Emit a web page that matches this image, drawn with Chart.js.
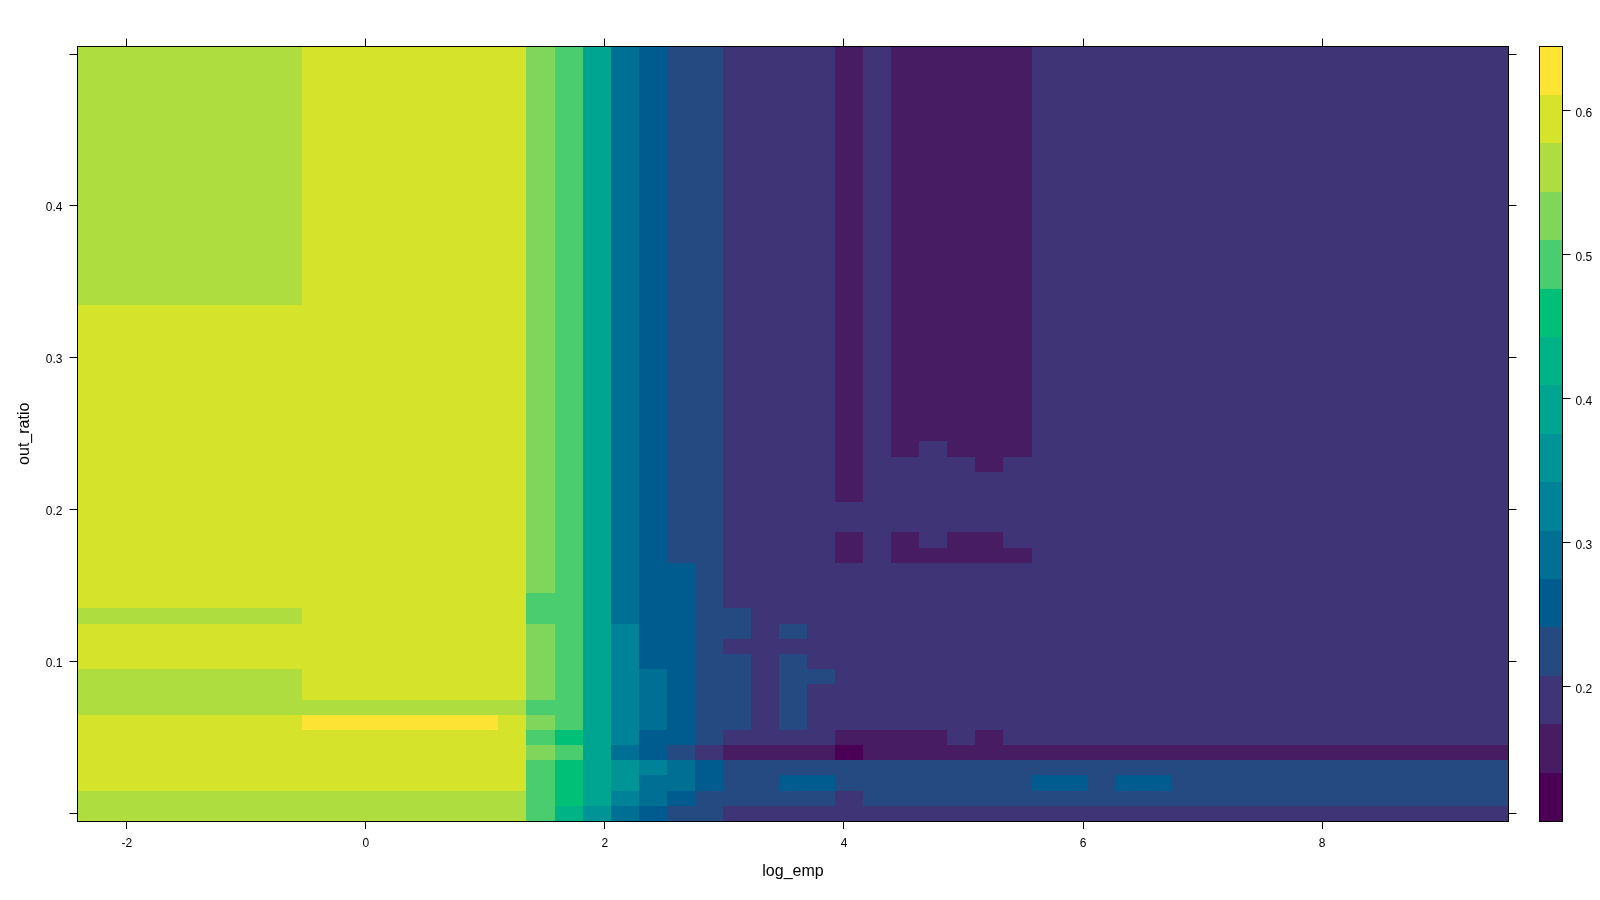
<!DOCTYPE html>
<html>
<head>
<meta charset="utf-8">
<title>out_ratio vs log_emp</title>
<script src="https://cdn.jsdelivr.net/npm/chart.js@4"></script>
<style>
  body { margin: 0; background: #fff; }
  canvas { position: absolute; top: 0; }
  #mapa { left: 0; }
  #chave { left: 1530px; }
</style>
</head>
<body>
<canvas id="mapa" width="1600" height="900"></canvas>
<canvas id="chave" width="70" height="900"></canvas>
<script>
// centros das celulas
const logEmp = [-2.30, -2.06, -1.83, -1.59, -1.36, -1.12, -0.89, -0.65, -0.42, -0.18, 0.05, 0.29, 0.52, 0.76, 0.99, 1.23, 1.46,
  1.69, 1.93, 2.16, 2.40, 2.63, 2.87, 3.10, 3.34, 3.57, 3.81, 4.04, 4.28, 4.51, 4.75, 4.98, 5.22, 5.45, 5.68, 5.92,
  6.15, 6.39, 6.62, 6.86, 7.09, 7.33, 7.56, 7.80, 8.03, 8.27, 8.50, 8.73, 8.97, 9.20, 9.44];
const outRatio = [0.50, 0.49, 0.48, 0.47, 0.46, 0.45, 0.44, 0.43, 0.42, 0.41, 0.40, 0.39, 0.38, 0.37, 0.36, 0.35, 0.34,
  0.33, 0.32, 0.31, 0.30, 0.29, 0.28, 0.27, 0.26, 0.25, 0.24, 0.23, 0.22, 0.21, 0.20, 0.19, 0.18, 0.17, 0.16, 0.15, 0.14,
  0.13, 0.12, 0.11, 0.10, 0.09, 0.08, 0.07, 0.06, 0.05, 0.04, 0.03, 0.02, 0.01, 0.00];

// faixas da legenda
const levelBreaks = [0.1064, 0.1400, 0.1737, 0.2073, 0.2410, 0.2746, 0.3082, 0.3419, 0.3755, 0.4092, 0.4428, 0.4764, 0.5101, 0.5437, 0.5774, 0.6110, 0.6447];
const levelColors = ['#4B0055', '#481C62', '#3F3476', '#254A82', '#005B8F', '#006F94', '#008298', '#009497',
  '#00A592', '#00B386', '#00C078', '#4ACD6E', '#7FD65A', '#AEDD40', '#D6E32B', '#FDE333'];

// uma linha por out_ratio (0.50 em cima), um caractere hex por log_emp = indice da faixa
const levelRows = [
  'ddddddddeeeeeeeecb854332222121111122222222222222222',
  'ddddddddeeeeeeeecb854332222121111122222222222222222',
  'ddddddddeeeeeeeecb854332222121111122222222222222222',
  'ddddddddeeeeeeeecb854332222121111122222222222222222',
  'ddddddddeeeeeeeecb854332222121111122222222222222222',
  'ddddddddeeeeeeeecb854332222121111122222222222222222',
  'ddddddddeeeeeeeecb854332222121111122222222222222222',
  'ddddddddeeeeeeeecb854332222121111122222222222222222',
  'ddddddddeeeeeeeecb854332222121111122222222222222222',
  'ddddddddeeeeeeeecb854332222121111122222222222222222',
  'ddddddddeeeeeeeecb854332222121111122222222222222222',
  'ddddddddeeeeeeeecb854332222121111122222222222222222',
  'ddddddddeeeeeeeecb854332222121111122222222222222222',
  'ddddddddeeeeeeeecb854332222121111122222222222222222',
  'ddddddddeeeeeeeecb854332222121111122222222222222222',
  'ddddddddeeeeeeeecb854332222121111122222222222222222',
  'ddddddddeeeeeeeecb854332222121111122222222222222222',
  'eeeeeeeeeeeeeeeecb854332222121111122222222222222222',
  'eeeeeeeeeeeeeeeecb854332222121111122222222222222222',
  'eeeeeeeeeeeeeeeecb854332222121111122222222222222222',
  'eeeeeeeeeeeeeeeecb854332222121111122222222222222222',
  'eeeeeeeeeeeeeeeecb854332222121111122222222222222222',
  'eeeeeeeeeeeeeeeecb854332222121111122222222222222222',
  'eeeeeeeeeeeeeeeecb854332222121111122222222222222222',
  'eeeeeeeeeeeeeeeecb854332222121111122222222222222222',
  'eeeeeeeeeeeeeeeecb854332222121111122222222222222222',
  'eeeeeeeeeeeeeeeecb854332222121211122222222222222222',
  'eeeeeeeeeeeeeeeecb854332222122221222222222222222222',
  'eeeeeeeeeeeeeeeecb854332222122222222222222222222222',
  'eeeeeeeeeeeeeeeecb854332222122222222222222222222222',
  'eeeeeeeeeeeeeeeecb854332222222222222222222222222222',
  'eeeeeeeeeeeeeeeecb854332222222222222222222222222222',
  'eeeeeeeeeeeeeeeecb854332222121211222222222222222222',
  'eeeeeeeeeeeeeeeecb854332222121111122222222222222222',
  'eeeeeeeeeeeeeeeecb854432222222222222222222222222222',
  'eeeeeeeeeeeeeeeecb854432222222222222222222222222222',
  'eeeeeeeeeeeeeeeebb854432222222222222222222222222222',
  'ddddddddeeeeeeeebb854433222222222222222222222222222',
  'eeeeeeeeeeeeeeeecb864433232222222222222222222222222',
  'eeeeeeeeeeeeeeeecb864432222222222222222222222222222',
  'eeeeeeeeeeeeeeeecb864433232222222222222222222222222',
  'ddddddddeeeeeeeecb865433233222222222222222222222222',
  'ddddddddeeeeeeeecb865433232222222222222222222222222',
  'ddddddddddddddddbb865433232222222222222222222222222',
  'eeeeeeeefffffffecb865433232222222222222222222222222',
  'eeeeeeeeeeeeeeeeba864432222111121222222222222222222',
  'eeeeeeeeeeeeeeeecb854321111011111111111111111111111',
  'eeeeeeeeeeeeeeeeba876543333333333333333333333333333',
  'eeeeeeeeeeeeeeeeba875543344333333344344333333333333',
  'ddddddddddddddddba865433333233333333333333333333333',
  'ddddddddddddddddb9754332222222222222222222222222222'
];

const xTickValues = [-2, 0, 2, 4, 6, 8];
const yTickValues = [0, 0.1, 0.2, 0.3, 0.4, 0.5];
const yTickLabels = ['', '0.1', '0.2', '0.3', '0.4', ''];
const keyTickValues = [0.2, 0.3, 0.4, 0.5, 0.6];

const cellHalf = 0.005;
const corTexto = '#000';
const fonteTick = { family: '"Liberation Sans", Arial, sans-serif', size: 12 };
const fonteTitulo = { family: '"Liberation Sans", Arial, sans-serif', size: 16 };

// tamanho fixo para o painel cair no lugar certo
function tamanhoFixo(medida) {
  return function(scale) {
    if (scale.isHorizontal()) scale.height = medida; else scale.width = medida;
    scale.paddingLeft = scale.paddingRight = scale.paddingTop = scale.paddingBottom = 0;
  };
}

function eixo(position, medida, valores, extra) {
  return Object.assign({
    type: 'linear',
    position: position,
    offset: false,
    afterFit: tamanhoFixo(medida),
    afterBuildTicks: function(scale) {
      scale.ticks = valores.map(v => ({ value: v }));
    },
    border: { display: true, color: '#000', width: 1, z: 1 },
    grid: { offset: false, drawOnChartArea: false, drawTicks: true, tickLength: 8, tickColor: '#000', color: '#000' },
    ticks: { display: false, color: corTexto, font: fonteTick, padding: 7, maxRotation: 0, autoSkip: false }
  }, extra);
}

// arredonda as barras no pixel para nao aparecer emenda entre celulas
const pixelSnap = {
  id: 'pixelSnap',
  afterDatasetsUpdate(chart) {
    chart.data.datasets.forEach(function(ds, i) {
      chart.getDatasetMeta(i).data.forEach(function(bar) {
        const esq = Math.round(bar.x - bar.width / 2);
        const dir = Math.round(bar.x + bar.width / 2);
        bar.x = (esq + dir) / 2;
        bar.width = dir - esq;
        bar.y = Math.round(bar.y);
        bar.base = Math.round(bar.base);
      });
    });
  }
};

const xRange = { min: -2.413, max: 9.56 };
const yRange = { min: -0.005, max: 0.505 };

const datasetsMapa = levelRows.map(function(linha, r) {
  const yc = outRatio[r];
  return {
    data: logEmp.map(() => [yc - cellHalf, yc + cellHalf]),
    backgroundColor: linha.split('').map(c => levelColors[parseInt(c, 16)]),
    grouped: false,
    categoryPercentage: 1,
    barPercentage: 1,
    inflateAmount: 0
  };
});

new Chart(document.getElementById('mapa').getContext('2d'), {
  type: 'bar',
  data: { labels: logEmp, datasets: datasetsMapa },
  plugins: [pixelSnap],
  options: {
    responsive: false,
    animation: false,
    events: [],
    plugins: { legend: { display: false }, tooltip: { enabled: false } },
    layout: { padding: 0 },
    scales: {
      x: { type: 'category', display: false, offset: true },
      xBaixo: eixo('bottom', 79, xTickValues, Object.assign({}, xRange, {
        axis: 'x',
        ticks: { display: true, color: corTexto, font: fonteTick, padding: 7, maxRotation: 0, autoSkip: false,
          callback: v => String(v) },
        title: { display: true, text: 'log_emp', color: corTexto, font: fonteTitulo, padding: { top: 0, bottom: 19 } }
      })),
      xCima: eixo('top', 46.5, xTickValues, Object.assign({}, xRange, { axis: 'x' })),
      y: eixo('left', 77.5, yTickValues, Object.assign({}, yRange, {
        ticks: { display: true, color: corTexto, font: fonteTick, padding: 7, autoSkip: false, labelOffset: 2,
          callback: v => yTickLabels[yTickValues.indexOf(v)] },
        title: { display: true, text: 'out_ratio', color: corTexto, font: fonteTitulo, padding: { top: 15, bottom: 0 } }
      })),
      yDir: eixo('right', 91.5, yTickValues, Object.assign({}, yRange, { axis: 'y' }))
    }
  }
});

// Legenda de cores
const datasetsChave = levelColors.map(function(cor, i) {
  return {
    data: [[levelBreaks[i], levelBreaks[i + 1]]],
    backgroundColor: cor,
    grouped: false,
    categoryPercentage: 1,
    barPercentage: 1,
    inflateAmount: 0
  };
});

const keyRange = { min: levelBreaks[0], max: levelBreaks[levelBreaks.length - 1] };

new Chart(document.getElementById('chave').getContext('2d'), {
  type: 'bar',
  data: { labels: ['nivel'], datasets: datasetsChave },
  plugins: [pixelSnap],
  options: {
    responsive: false,
    animation: false,
    events: [],
    plugins: { legend: { display: false }, tooltip: { enabled: false } },
    layout: { padding: 0 },
    scales: {
      x: {
        type: 'category',
        position: 'bottom',
        offset: true,
        afterFit: tamanhoFixo(79),
        border: { display: true, color: '#000', width: 1, z: 1 },
        grid: { display: false },
        ticks: { display: false }
      },
      xCima: eixo('top', 46.5, [], { min: 0, max: 1, axis: 'x' }),
      yFora: eixo('left', 9.5, [], Object.assign({}, keyRange, { axis: 'y' })),
      y: eixo('right', 37.5, keyTickValues, Object.assign({}, keyRange, {
        ticks: { display: true, color: corTexto, font: fonteTick, padding: 5, autoSkip: false, labelOffset: 3,
          callback: v => v.toFixed(1) }
      }))
    }
  }
});
</script>
</body>
</html>
